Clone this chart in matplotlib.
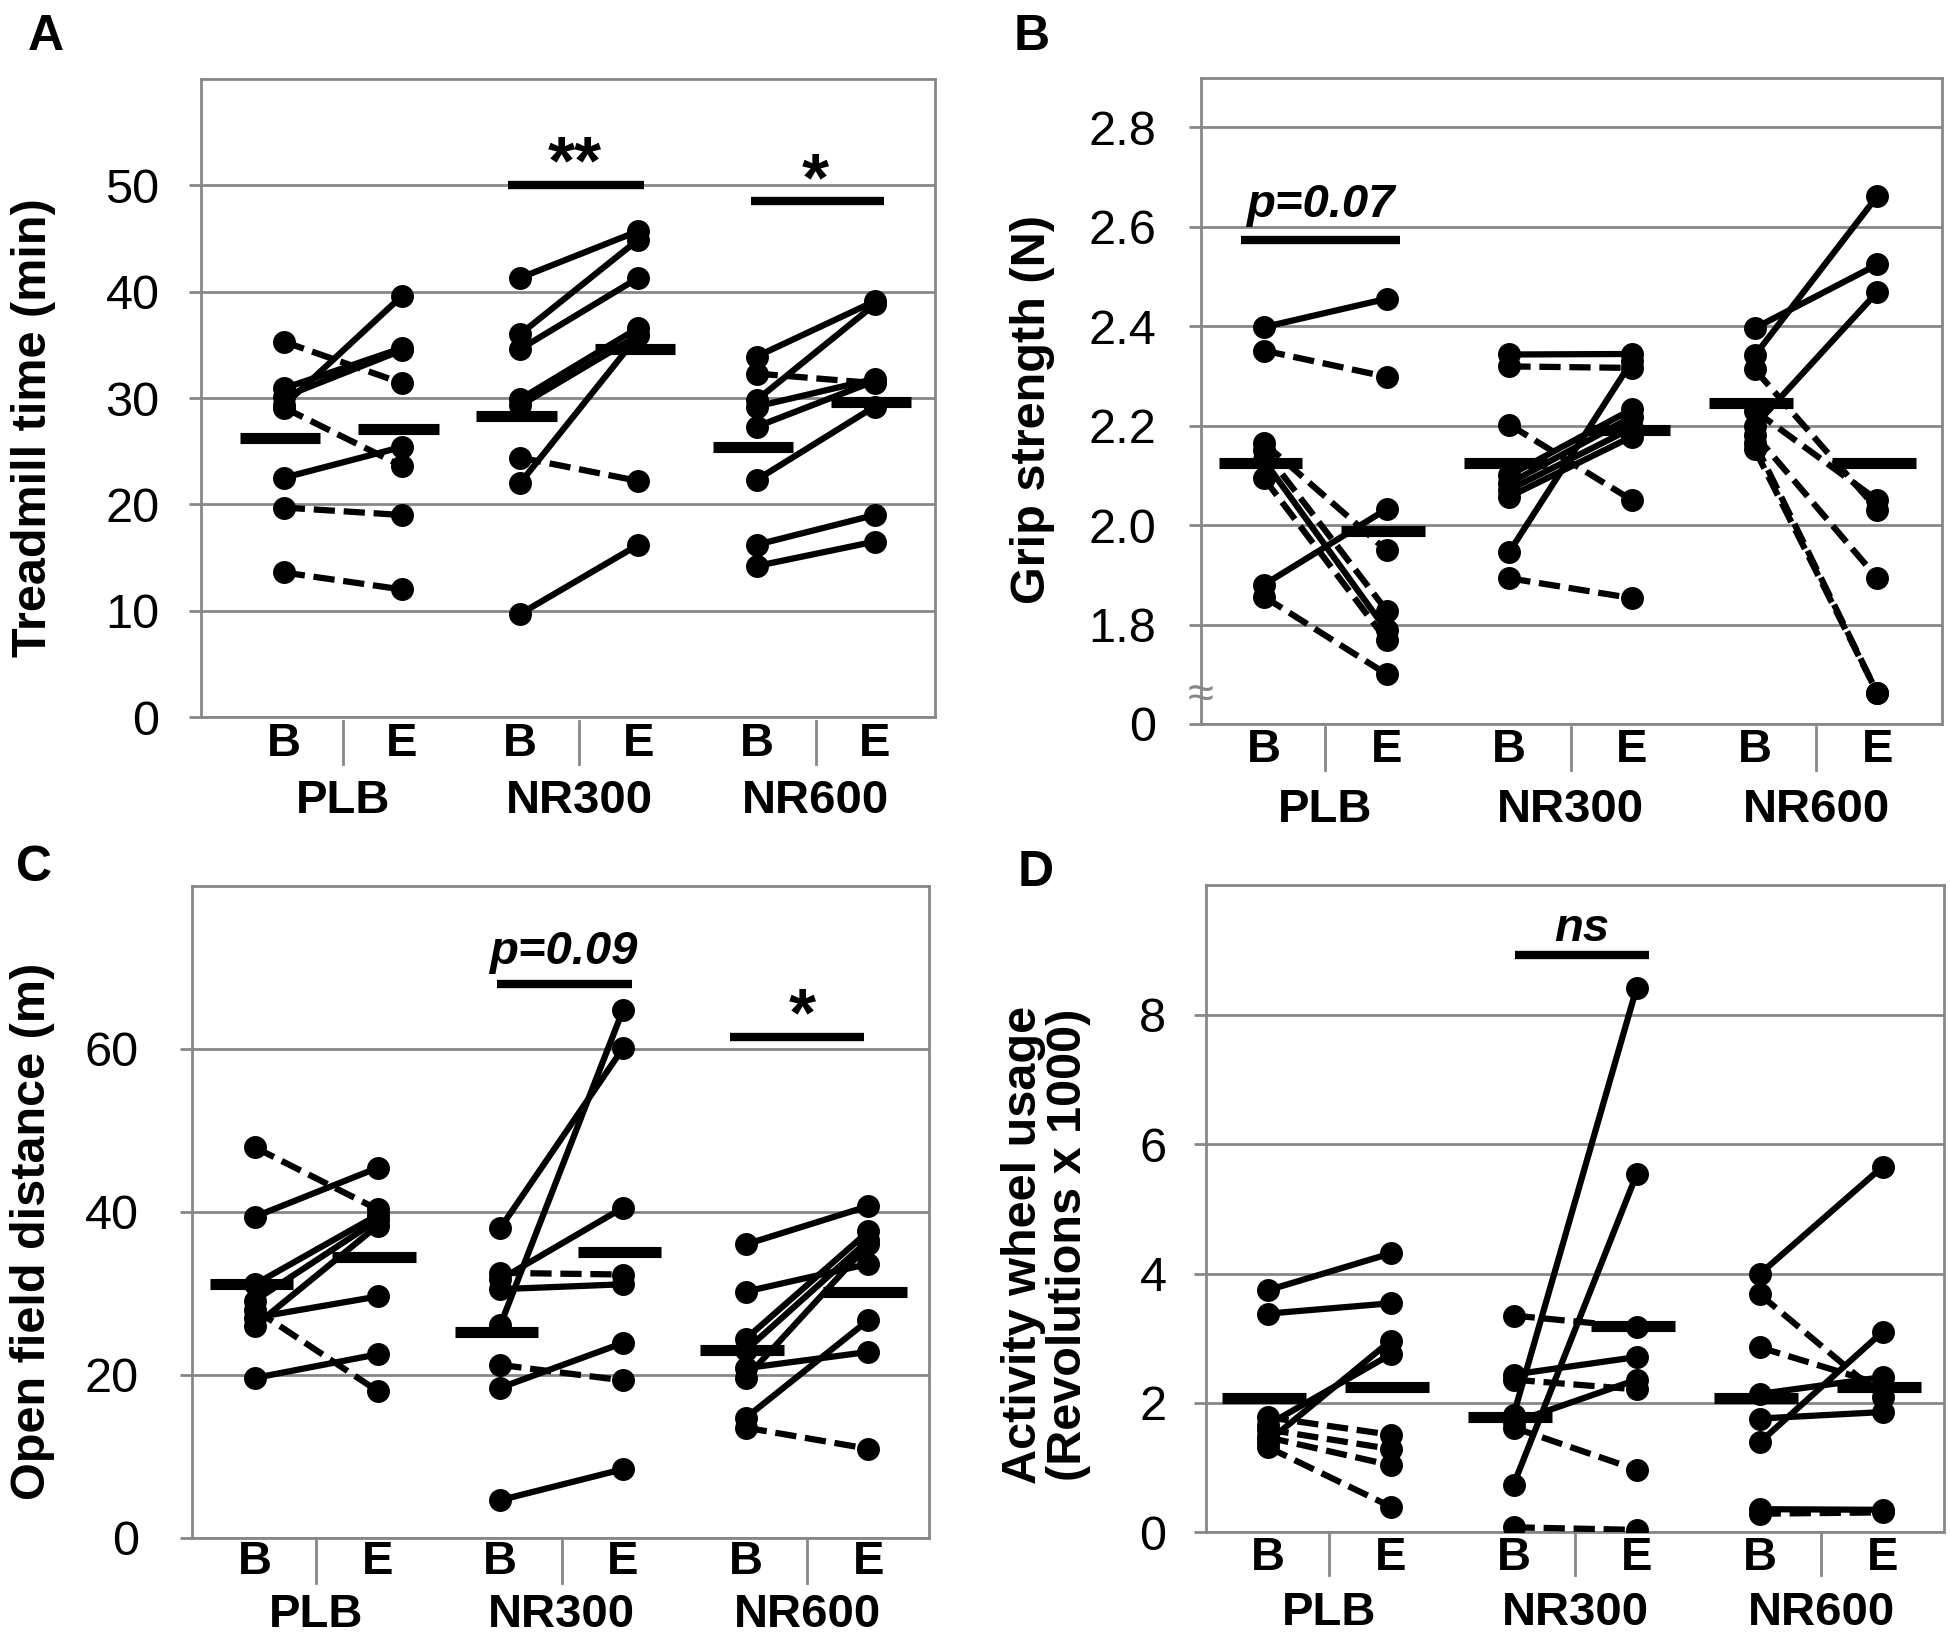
import matplotlib
matplotlib.use('Agg')
import matplotlib.pyplot as plt

plt.rcParams['font.family'] = ['Liberation Sans', 'DejaVu Sans']
GRAY = '#878787'

groups = ['PLB', 'NR300', 'NR600']
phases = ['B', 'E']

# A - treadmill time (min), one list per group, paired baseline / end values
tread_b = [[35.3, 29.3, 30.9, 30.1, 29.1, 22.5, 19.7, 13.6],
           [41.3, 36.0, 34.6, 29.9, 29.3, 24.4, 22.0, 9.7],
           [33.9, 32.3, 29.8, 29.2, 27.3, 22.3, 16.2, 14.2]]
tread_e = [[31.4, 39.6, 34.7, 34.5, 23.6, 25.4, 19.0, 12.0],
           [45.7, 44.9, 41.3, 36.6, 35.9, 22.2, 35.9, 16.2],
           [39.1, 31.4, 38.8, 31.8, 31.6, 29.2, 19.0, 16.5]]
tread_dash = [[1, 0, 0, 0, 1, 0, 1, 1],
              [0, 0, 0, 0, 0, 1, 0, 0],
              [0, 1, 0, 0, 0, 0, 0, 0]]
tread_mean = [[26.2, 27.1], [28.3, 34.6], [25.4, 29.6]]

# B - grip strength (N)
grip_b = [[2.398, 2.351, 2.165, 2.15, 2.13, 2.094, 1.88, 1.856],
          [2.343, 2.319, 2.202, 1.946, 1.893, 2.10, 2.084, 2.071, 2.057],
          [2.396, 2.341, 2.20, 2.313, 2.23, 2.182, 2.165, 2.152]]
grip_e = [[2.455, 2.298, 1.949, 1.828, 1.788, 1.768, 2.032, 1.70],
          [2.344, 2.316, 2.05, 2.33, 1.853, 2.233, 2.218, 2.195, 2.178],
          [2.524, 2.662, 2.469, 2.031, 2.05, 1.893, 1.662, 1.662]]
grip_dash = [[0, 1, 1, 1, 0, 1, 0, 1],
             [0, 1, 1, 0, 1, 0, 0, 0, 0],
             [0, 0, 0, 1, 1, 1, 1, 1]]
grip_mean = [[2.125, 1.989], [2.125, 2.192], [2.245, 2.125]]

# C - open field distance (m)
open_b = [[47.9, 39.4, 31.1, 29.1, 26.0, 27.0, 28.0, 19.6],
          [38.0, 26.1, 31.7, 32.5, 30.5, 21.2, 18.4, 4.6],
          [36.0, 30.2, 24.4, 23.0, 20.8, 19.6, 14.7, 13.5]]
open_e = [[40.3, 45.4, 39.6, 39.0, 38.3, 29.6, 18.0, 22.5],
          [60.1, 64.8, 40.5, 32.3, 31.1, 19.3, 23.9, 8.4],
          [40.7, 33.6, 37.6, 36.5, 22.8, 36.0, 26.7, 10.9]]
open_dash = [[1, 0, 0, 0, 0, 0, 1, 0],
             [0, 0, 0, 1, 0, 1, 0, 0],
             [0, 0, 0, 0, 0, 0, 0, 1]]
open_mean = [[31.1, 34.5], [25.2, 35.1], [23.0, 30.2]]

# D - activity wheel usage (revolutions x 1000)
wheel_b = [[3.74, 3.38, 1.66, 1.40, 1.78, 1.59, 1.47, 1.32],
           [3.35, 1.82, 0.74, 2.44, 2.36, 1.70, 1.62, 0.08],
           [3.99, 3.68, 2.86, 2.14, 1.76, 1.39, 0.36, 0.29]]
wheel_e = [[4.31, 3.54, 2.75, 2.96, 1.51, 1.29, 1.04, 0.40],
           [3.17, 8.41, 5.53, 2.71, 2.21, 2.36, 0.97, 0.04],
           [5.65, 2.09, 2.28, 2.40, 1.86, 3.10, 0.35, 0.31]]
wheel_dash = [[0, 0, 0, 0, 1, 1, 1, 1],
              [1, 0, 0, 0, 1, 0, 1, 1],
              [0, 1, 1, 0, 0, 0, 0, 1]]
wheel_mean = [[2.07, 2.24], [1.78, 3.19], [2.07, 2.24]]


def plot_panel(ax, base, end, dash, means, xlim, ylim, yticks, yticklabels,
               ylabel, ylabel_xy, tick_pad, be_y, grp_y, sep_y):
    for g in range(3):
        xb, xe = 2 * g, 2 * g + 1
        for b, e, d in zip(base[g], end[g], dash[g]):
            ls = (0, (3.4, 1.4)) if d else '-'
            ax.plot([xb, xe], [b, e], color='black', lw=4.5, ls=ls,
                    marker='o', ms=15.5, zorder=3)
        for k, m in enumerate(means[g]):
            x = 2 * g + k - 0.03
            ax.plot([x - 0.34, x + 0.34], [m, m], color='black', lw=8,
                    solid_capstyle='butt', zorder=4)

    ax.set_xlim(*xlim)
    ax.set_ylim(*ylim)
    ax.set_xticks([])
    ax.set_yticks(yticks)
    ax.set_yticklabels(yticklabels)
    ax.tick_params(axis='y', length=9, width=2, color=GRAY, labelsize=35,
                   pad=tick_pad)
    ax.yaxis.grid(True, color=GRAY, lw=2)
    ax.set_axisbelow(True)
    for s in ax.spines.values():
        s.set_color(GRAY)
        s.set_linewidth(2)

    ax.text(ylabel_xy[0], ylabel_xy[1], ylabel, transform=ax.transAxes,
            rotation=90, ha='center', va='center', fontsize=35,
            fontweight='bold', linespacing=1.0)

    trans = ax.get_xaxis_transform()
    for g in range(3):
        for k in range(2):
            ax.text(2 * g + k, be_y, phases[k], transform=trans, ha='center',
                    va='center', fontsize=34, fontweight='bold')
        ax.plot([2 * g + 0.5] * 2, sep_y, transform=trans, color=GRAY,
                lw=2, clip_on=False)
        ax.text(2 * g + 0.5, grp_y, groups[g], transform=trans, ha='center',
                va='center', fontsize=34, fontweight='bold')


def sig_bar(ax, x0, x1, y, text, tx, ty, size, style='normal'):
    ax.plot([x0, x1], [y, y], color='black', lw=6, solid_capstyle='butt',
            zorder=4)
    ax.text(tx, ty, text, ha='center', va='baseline', fontsize=size,
            fontweight='bold', fontstyle=style)


fig = plt.figure(figsize=(19.5, 16.42), dpi=100)

axA = fig.add_axes([0.1031, 0.5633, 0.3764, 0.3886])
plot_panel(axA, tread_b, tread_e, tread_dash, tread_mean, (-0.70, 5.51), (0, 60),
           [0, 10, 20, 30, 40, 50], ['0', '10', '20', '30', '40', '50'],
           'Treadmill time (min)', (-0.228, 0.453), 21, -0.042, -0.132,
           [-0.006, -0.074])
sig_bar(axA, 1.90, 3.05, 50.0, '**', 2.46, 50.2, 50)
sig_bar(axA, 3.95, 5.08, 48.5, '*', 4.50, 48.6, 50)

axB = fig.add_axes([0.6159, 0.5591, 0.3800, 0.3937])
plot_panel(axB, grip_b, grip_e, grip_dash, grip_mean, (-0.513, 5.526), (1.6, 2.9),
           [1.6, 1.8, 2.0, 2.2, 2.4, 2.6, 2.8],
           ['0', '1.8', '2.0', '2.2', '2.4', '2.6', '2.8'],
           'Grip strength (N)', (-0.227, 0.486), 23, -0.04, -0.133,
           [-0.005, -0.071])
sig_bar(axB, -0.19, 1.11, 2.574, 'p=0.07', 0.46, 2.62, 34, 'italic')
axB.text(-0.513, 1.657, '\u2248', ha='center', va='center', fontsize=34,
         color=GRAY, clip_on=False)

axC = fig.add_axes([0.0987, 0.0636, 0.3777, 0.3968])
plot_panel(axC, open_b, open_e, open_dash, open_mean, (-0.509, 5.493), (0, 80),
           [0, 20, 40, 60], ['0', '20', '40', '60'],
           'Open field distance (m)', (-0.217, 0.47), 29.5, -0.038, -0.119,
           [-0.004, -0.069])
sig_bar(axC, 1.97, 3.07, 68.0, 'p=0.09', 2.51, 70.4, 34, 'italic')
sig_bar(axC, 3.87, 4.96, 61.5, '*', 4.46, 61.7, 50)

axD = fig.add_axes([0.6185, 0.0667, 0.3785, 0.3943])
plot_panel(axD, wheel_b, wheel_e, wheel_dash, wheel_mean, (-0.5, 5.5), (0, 10),
           [0, 2, 4, 6, 8], ['0', '2', '4', '6', '8'],
           'Activity wheel usage\n(Revolutions x 1000)', (-0.2175, 0.444), 19.5,
           -0.039, -0.124, [0.0, -0.066])
sig_bar(axD, 2.01, 3.10, 8.92, 'ns', 2.55, 9.13, 34, 'italic')

for letter, px, py in [('A', 45.5, 37), ('B', 1032, 37), ('C', 34.5, 868), ('D', 1036, 873)]:
    fig.text(px / 1950, 1 - py / 1642, letter, ha='center', va='center',
             fontsize=36, fontweight='bold')

plt.savefig('out.png', dpi=100)
